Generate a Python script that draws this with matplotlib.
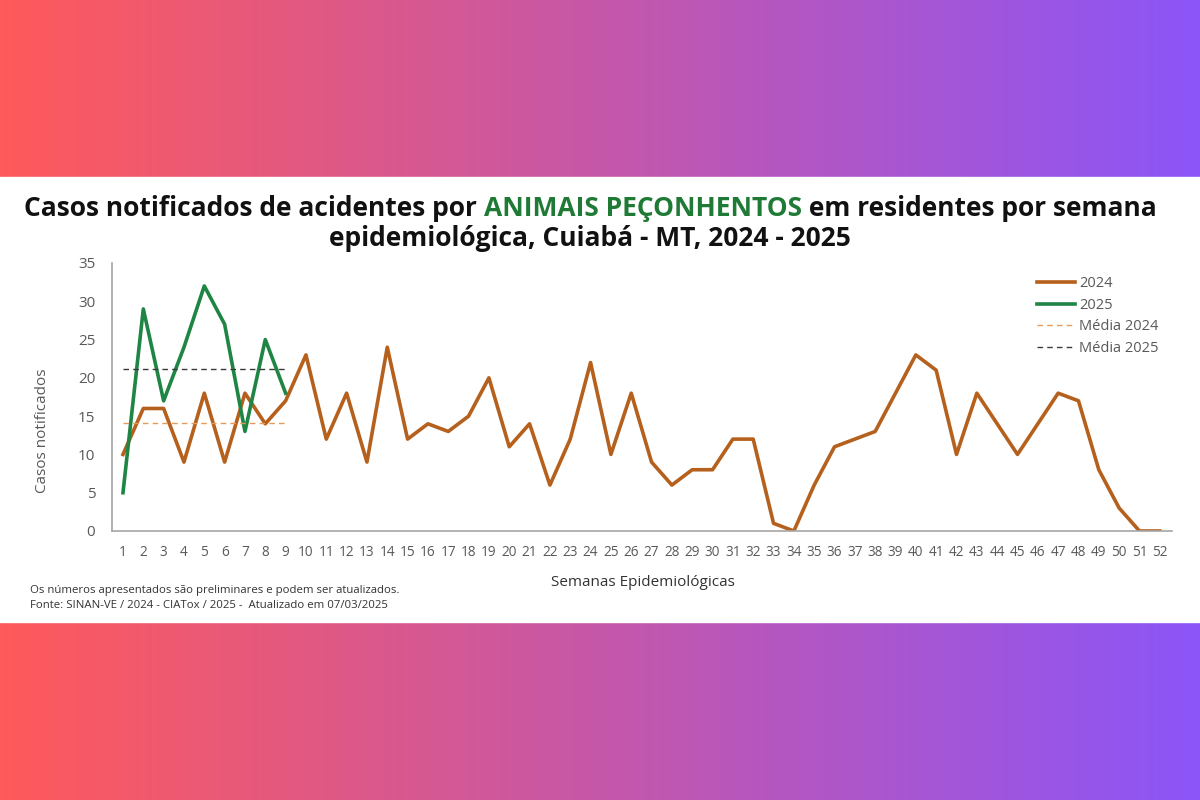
import numpy as np
import matplotlib
matplotlib.use("Agg")
import matplotlib.pyplot as plt

# Dados
semanas = list(range(1, 53))
casos_2024 = [10, 16, 16, 9, 18, 9, 18, 14, 17, 23, 12, 18, 9, 24, 12, 14, 13, 15, 20, 11,
              14, 6, 12, 22, 10, 18, 9, 6, 8, 8, 12, 12, 1, 0, 6, 11, 12, 13, 18, 23,
              21, 10, 18, 14, 10, 14, 18, 17, 8, 3, 0, 0]
casos_2025 = [5, 29, 17, 24, 32, 27, 13, 25, 18]
yticks = [0, 5, 10, 15, 20, 25, 30, 35]

# médias comparadas no mesmo período (semanas 1 a 9)
n25 = len(casos_2025)
media_2024 = np.mean(casos_2024[:n25])
media_2025 = np.mean(casos_2025)

W, H = 1200, 800
fig = plt.figure(figsize=(12, 8), dpi=100)

# Fundo em gradiente
bg = fig.add_axes([0, 0, 1, 1])
c_left = np.array([255, 90, 90]) / 255
c_right = np.array([140, 85, 248]) / 255
t = np.linspace(0, 1, 600)
grad = (c_left[None, :] * (1 - t[:, None]) + c_right[None, :] * t[:, None])[None, :, :]
bg.imshow(grad, aspect="auto", extent=[0, W, 0, H])
bg.axhspan(H - 622, H - 177, color="white")
bg.set_xlim(0, W)
bg.set_ylim(0, H)
bg.axis("off")

# Gráfico
ax = fig.add_axes([112 / W, 1 - 531 / H, (1172 - 112) / W, (531 - 263) / H])
ax.plot(semanas, casos_2024, color="#B5601C", lw=2.6, label="2024")
ax.plot(semanas[:n25], casos_2025, color="#1F8544", lw=2.6, label="2025")
ax.plot(semanas[:n25], [media_2024] * n25, color="#E39A5A", lw=1.0, ls=(0, (4, 3)), label="Média 2024")
ax.plot(semanas[:n25], [media_2025] * n25, color="#3A3A3A", lw=1.0, ls=(0, (4, 3)), label="Média 2025")

ax.set_xlim(0.46, 52.6)
ax.set_ylim(0, 35)
ax.set_xticks(semanas)
ax.set_yticks(yticks)
ax.tick_params(length=0, colors="#595959")
for lab in ax.get_xticklabels():
    lab.set_fontfamily("Open Sans")
    lab.set_fontsize(9.8)
for lab in ax.get_yticklabels():
    lab.set_fontfamily("Open Sans")
    lab.set_fontsize(11)
ax.tick_params(axis="x", pad=10)
ax.tick_params(axis="y", pad=12)
for s in ["top", "right"]:
    ax.spines[s].set_visible(False)
for s in ["left", "bottom"]:
    ax.spines[s].set_color("#A6A6A6")
    ax.spines[s].set_linewidth(1.2)
ax.set_facecolor("white")

leg = ax.legend(loc="upper right", bbox_to_anchor=(1.0, 1.0), frameon=False,
                handlelength=2.6, handletextpad=0.3, labelspacing=0.45,
                prop={"family": "Open Sans", "size": 10.5})
for txt in leg.get_texts():
    txt.set_color("#595959")

fig.text(42 / W, 1 - 431 / H, "Casos notificados", rotation=90, ha="center", va="center",
         fontsize=11, color="#595959", family="Open Sans")
fig.text(643 / W, 1 - 582 / H, "Semanas Epidemiológicas", ha="center", va="center",
         fontsize=11, color="#333333", family="Open Sans")
fig.text(30 / W, 1 - 590 / H, "Os números apresentados são preliminares e podem ser atualizados.",
         ha="left", va="center", fontsize=8.2, color="#333333", family="Open Sans")
fig.text(30 / W, 1 - 605 / H, "Fonte: SINAN-VE / 2024 - CIATox / 2025 -  Atualizado em 07/03/2025",
         ha="left", va="center", fontsize=8.2, color="#333333", family="Open Sans")

# Título com trecho em verde
title_font = dict(fontsize=19, fontweight="bold", family="Open Sans", va="center")
partes = [("Casos notificados de acidentes por ", "#111111"),
          ("ANIMAIS PEÇONHENTOS", "#1E7A34"),
          (" em residentes por semana", "#111111")]
fig.canvas.draw()
r = fig.canvas.get_renderer()
objs = []
for txt, cor in partes:
    objs.append(fig.text(0, 1 - 208 / H, txt, color=cor, ha="left", **title_font))
larguras = [o.get_window_extent(renderer=r).width for o in objs]
x0 = 590 - sum(larguras) / 2
for o, w in zip(objs, larguras):
    o.set_x(x0 / W)
    x0 += w
fig.text(590 / W, 1 - 238 / H, "epidemiológica, Cuiabá - MT, 2024 - 2025", color="#111111",
         ha="center", **title_font)

fig.savefig("out.png", dpi=100)
